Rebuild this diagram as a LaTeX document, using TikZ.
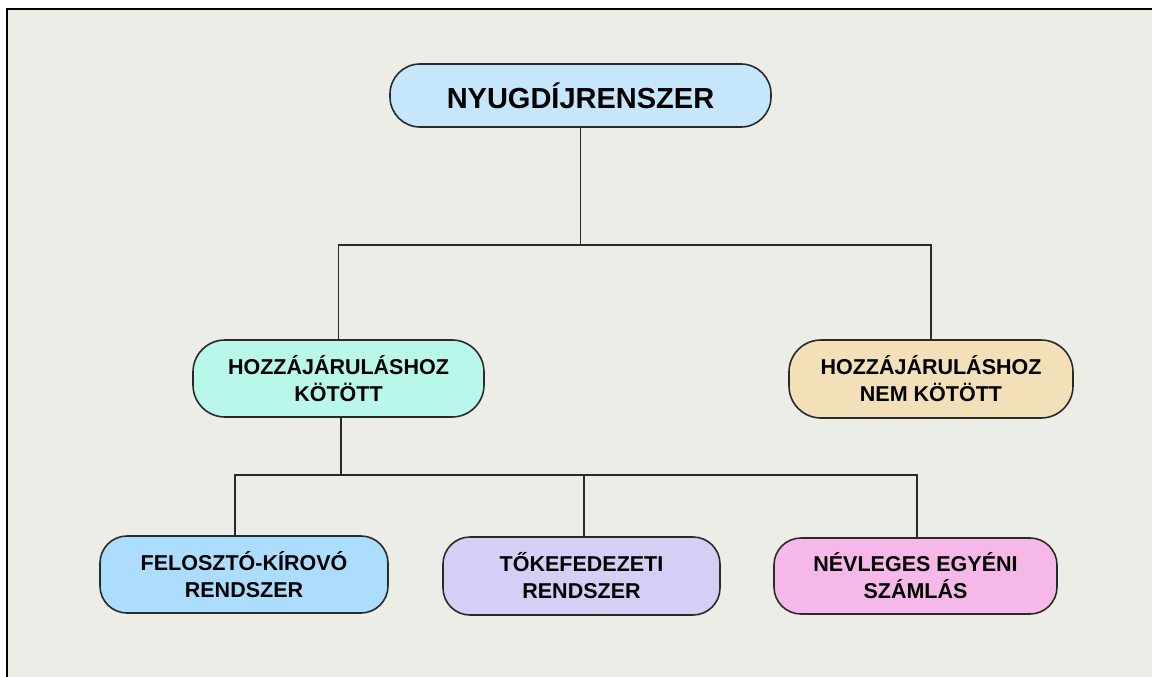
\documentclass[tikz,border=0pt]{standalone}
\usepackage{fontspec}
\setmainfont{Liberation Sans}
\definecolor{bg}{HTML}{EDEDE8}
\definecolor{cTop}{HTML}{C6E7FB}
\definecolor{cMint}{HTML}{B9F7EA}
\definecolor{cTan}{HTML}{F3E0B9}
\definecolor{cBlue}{HTML}{ADDDFC}
\definecolor{cLav}{HTML}{D7CEF6}
\definecolor{cPink}{HTML}{F6B8E8}
\definecolor{edge}{HTML}{2A2A2A}
\begin{document}
\begin{tikzpicture}[x=1pt,y=-1pt,
  box/.style={draw=edge, line width=1.6pt, inner sep=0pt, align=center,
    font=\fontsize{21.5}{27}\selectfont\bfseries, text=black},
  link/.style={draw=edge, line width=1.8pt}]
\useasboundingbox (0,0) rectangle (1152,677);
\fill[white] (0,0) rectangle (1152,677);
\fill[bg] (7,9) rectangle (1152,677);
\draw[line width=2.6pt, black] (1152,9) -- (7,9) -- (7,677);

\node[box, fill=cTop, rounded corners=30pt, minimum width=381pt, minimum height=63pt,
  font=\fontsize{29}{34}\selectfont\bfseries] (top) at (580.5,95.5) {NYUGDÍJRENSZER};
\node[box, fill=cMint, rounded corners=32pt, minimum width=291pt, minimum height=77pt]
  (n2) at (338.5,378.5) {HOZZÁJÁRULÁSHOZ\\KÖTÖTT};
\node[box, fill=cTan, rounded corners=32pt, minimum width=284pt, minimum height=78pt]
  (n3) at (931,379) {HOZZÁJÁRULÁSHOZ\\NEM KÖTÖTT};
\node[box, fill=cBlue, rounded corners=27pt, minimum width=288pt, minimum height=77pt]
  (n4) at (244,574.5) {FELOSZTÓ-KÍROVÓ\\RENDSZER};
\node[box, fill=cLav, rounded corners=27pt, minimum width=277pt, minimum height=78pt]
  (n5) at (581.5,576) {TŐKEFEDEZETI\\RENDSZER};
\node[box, fill=cPink, rounded corners=27pt, minimum width=283pt, minimum height=76pt]
  (n6) at (915.5,576) {NÉVLEGES EGYÉNI\\SZÁMLÁS};

\coordinate (j1) at (580.5,245);
\coordinate (j2) at (341,475);
\draw[link] (top.south) -- (j1);
\draw[link] (n2.north) |- (j1) -| (n3.north);
\draw[link] ([xshift=2.5pt]n2.south) -- (j2);
\draw[link] ([xshift=-9pt]n4.north) |- (j2) -| ([xshift=1.5pt]n6.north);
\draw[link] ([xshift=2.5pt]n5.north) -- ([xshift=2.5pt]n5.north |- j2);
\end{tikzpicture}
\end{document}
